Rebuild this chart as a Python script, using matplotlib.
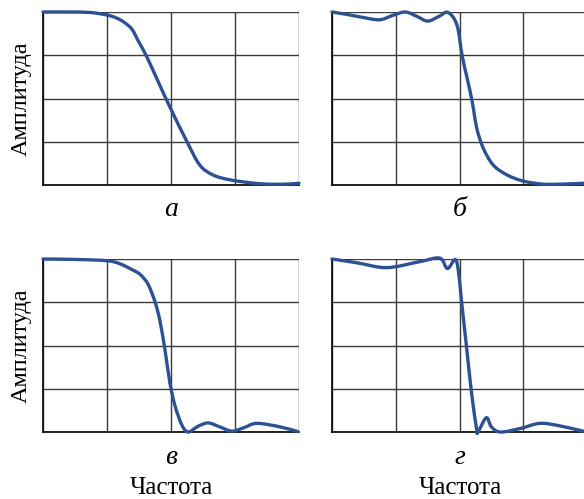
import numpy as np
import matplotlib
matplotlib.use("Agg")
import matplotlib.pyplot as plt
from matplotlib.path import Path
from matplotlib.patches import PathPatch

# readings in grid units (4 x 4 cells)
x_a = [0.0, 0.4, 0.73, 1.0, 1.15, 1.27, 1.39, 1.5, 1.62, 1.8, 1.98, 2.25, 2.45, 2.66, 2.92, 3.25, 3.5, 3.8, 4.0]
y_a = [4.0, 4.0, 3.99, 3.93, 3.86, 3.76, 3.6, 3.3, 2.97, 2.39, 1.81, 1.0, 0.46, 0.23, 0.12, 0.05, 0.02, 0.02, 0.04]

x_b = [0.0, 0.25, 0.5, 0.75, 0.95, 1.15, 1.33, 1.5, 1.68, 1.82, 1.96, 2.04, 2.12, 2.2, 2.27, 2.37, 2.53, 2.75, 3.0, 3.31, 3.6, 3.95, 4.0]
y_b = [4.0, 3.94, 3.87, 3.82, 3.92, 4.0, 3.9, 3.79, 3.9, 3.99, 3.7, 3.0, 2.47, 1.92, 1.32, 0.86, 0.46, 0.23, 0.09, 0.02, 0.02, 0.04, 0.04]

x_c = [0.0, 0.5, 1.0, 1.2, 1.41, 1.52, 1.64, 1.75, 1.83, 1.91, 1.98, 2.06, 2.17, 2.27, 2.42, 2.58, 2.76, 2.95, 3.14, 3.34, 3.7, 3.98]
y_c = [4.0, 3.99, 3.96, 3.89, 3.74, 3.64, 3.42, 3.01, 2.55, 1.86, 1.16, 0.62, 0.16, 0.0, 0.13, 0.21, 0.12, 0.02, 0.1, 0.2, 0.12, 0.01]

x_d = [0.0, 0.4, 0.86, 1.38, 1.69, 1.81, 1.93, 1.98, 2.03, 2.11, 2.19, 2.27, 2.29, 2.42, 2.5, 2.64, 2.95, 3.26, 3.58, 3.94, 4.0]
y_d = [4.0, 3.91, 3.8, 3.94, 4.02, 3.78, 3.99, 3.75, 3.05, 1.97, 0.89, 0.05, 0.0, 0.33, 0.12, 0.0, 0.08, 0.2, 0.14, 0.02, 0.02]

panel_labels = ["а", "б", "в", "г"]
ylabel = "Амплитуда"
xlabel = "Частота"

line_color = "#2e5193"
serif = ["Liberation Serif", "DejaVu Serif"]

W, H = 584, 499
fig = plt.figure(figsize=(W / 100, H / 100), dpi=100)


def px_axes(left, top, right, bottom):
    return fig.add_axes([left / W, 1 - bottom / H, (right - left) / W, (bottom - top) / H])


def smooth_path(xs, ys):
    # Catmull-Rom through the read points, drawn as cubic Bezier segments
    p = np.column_stack([xs, ys]).astype(float)
    verts = [p[0]]
    codes = [Path.MOVETO]
    for i in range(len(p) - 1):
        p0 = p[i - 1] if i > 0 else p[i]
        p3 = p[i + 2] if i + 2 < len(p) else p[i + 1]
        c1 = p[i] + (p[i + 1] - p0) / 6
        c2 = p[i + 1] - (p3 - p[i]) / 6
        verts += [c1, c2, p[i + 1]]
        codes += [Path.CURVE4] * 3
    return Path(verts, codes)


boxes = [(43, 12, 299, 185), (332, 12, 587, 185), (43, 259, 299, 432), (332, 259, 587, 432)]
curves = [(x_a, y_a), (x_b, y_b), (x_c, y_c), (x_d, y_d)]
label_y = [209, 209, 458, 458]

for box, (xs, ys), lab, ly in zip(boxes, curves, panel_labels, label_y):
    ax = px_axes(*box)
    ax.set_xlim(0, 4)
    ax.set_ylim(0, 4)
    ax.set_xticks(range(5))
    ax.set_yticks(range(5))
    ax.tick_params(length=0, labelbottom=False, labelleft=False)
    ax.grid(True, color="#3a3a3a", lw=1.0)
    for s in ["top", "right"]:
        ax.spines[s].set_visible(False)
    for s in ["left", "bottom"]:
        ax.spines[s].set_color("#111111")
        ax.spines[s].set_linewidth(1.3)
    ax.add_patch(PathPatch(smooth_path(xs, ys), fill=False, edgecolor=line_color, lw=2.4,
                           capstyle="round", joinstyle="round", clip_on=False, zorder=5))
    cx = (box[0] + box[2]) / 2
    fig.text(cx / W, 1 - ly / H, lab, fontsize=20, style="italic", family=serif,
             ha="center", va="center")

for top, bottom in [(12, 185), (259, 432)]:
    fig.text(21 / W, 1 - (top + bottom) / 2 / H, ylabel, fontsize=17.5, family=serif,
             rotation=90, ha="center", va="center")

for cx in [171, 460]:
    fig.text(cx / W, 1 - 488 / H, xlabel, fontsize=18, family=serif, ha="center", va="center")

fig.savefig("out.png", dpi=100)
